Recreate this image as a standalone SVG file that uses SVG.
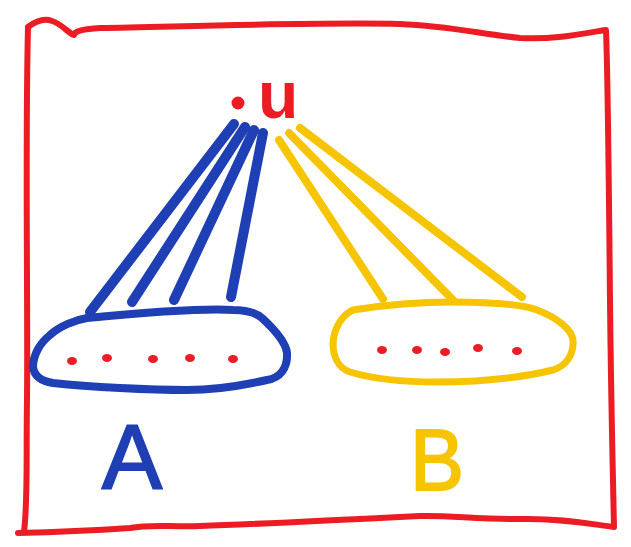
<svg xmlns="http://www.w3.org/2000/svg" width="631" height="547" viewBox="0 0 631 547">
<style>
.ink{fill:none;stroke-linecap:round;stroke-linejoin:round}
.red{stroke:#ec1c24}
.blue{stroke:#1f3fb4}
.yel{stroke:#f6c500}
.dot{fill:#ec1c24}
.lbl{font-family:"Liberation Sans",Arial,sans-serif}
</style>
<rect width="631" height="547" fill="#ffffff"/>
<g id="frame">
<path class="ink red" stroke-width="6" d="M28,27 C36,21 44,18 52,21 C62,24 68,33 74,35 C74,31 84,29 100,28 C200,26 320,22 400,24 C450,26 480,34 520,38 C560,40 590,32 606,30 C608,80 609,200 610,300 C611,400 613,480 614,527 C590,524 560,518 520,519 C480,520 450,515 420,516 C360,519 260,524 200,526 C170,527 150,524 130,528 C100,530 60,532 18,533 M24,532 C28,500 26,460 27,400 C28,300 25,150 28,27"/>
</g>
<g id="connectors">
<g class="ink blue" stroke-width="10">
<path d="M234,124 L90,312"/>
<path d="M245,127 L132,302"/>
<path d="M254,130 L174,300"/>
<path d="M263,133 L231,297"/>
</g>
<g class="ink yel" stroke-width="8">
<path d="M279,140 L383,299"/>
<path d="M289,133 L453,300"/>
<path d="M300,128 L522,297"/>
</g>
</g>
<g id="u">
<circle cx="238" cy="103" r="6.5" fill="#ec1c24"/>
<text class="lbl" x="258" y="118" font-size="66" font-weight="bold" fill="#ec1c24">u</text>
</g>
<g id="A">
<path class="ink blue" stroke-width="8" d="M87,318 C140,313 200,308 233,310 C245,310 255,312 262,318 C275,330 286,343 287,353 C288,368 280,378 267,380 C240,386 210,390 187,390 C150,390 90,387 53,383 C40,381 34,375 33,367 C33,355 40,343 50,335 C60,326 75,320 87,318 Z"/>
<g class="dot">
<ellipse cx="72" cy="361" rx="5" ry="4"/>
<ellipse cx="107" cy="358" rx="5" ry="4"/>
<ellipse cx="153" cy="359" rx="5" ry="4"/>
<ellipse cx="190" cy="358" rx="5" ry="4"/>
<ellipse cx="233" cy="359" rx="5" ry="4"/>
</g>
<text class="lbl" x="102" y="488" font-size="90" fill="#1f3fb4" stroke="#1f3fb4" stroke-width="2">A</text>
</g>
<g id="B">
<path class="ink yel" stroke-width="7" d="M353,310 C390,304 420,302 453,302 C490,302 520,304 537,310 C558,318 572,330 573,340 C574,355 566,366 553,370 C520,378 480,382 437,382 C400,382 370,378 350,372 C338,368 333,356 333,343 C334,328 342,315 353,310 Z"/>
<g class="dot">
<ellipse cx="382" cy="350" rx="5" ry="4"/>
<ellipse cx="417" cy="350" rx="5" ry="4"/>
<ellipse cx="445" cy="352" rx="5" ry="4"/>
<ellipse cx="478" cy="348" rx="5" ry="4"/>
<ellipse cx="517" cy="351" rx="5" ry="4"/>
</g>
<text class="lbl" x="410" y="490" font-size="88" textLength="54" lengthAdjust="spacingAndGlyphs" fill="#f6c500" stroke="#f6c500" stroke-width="2">B</text>
</g>
</svg>
